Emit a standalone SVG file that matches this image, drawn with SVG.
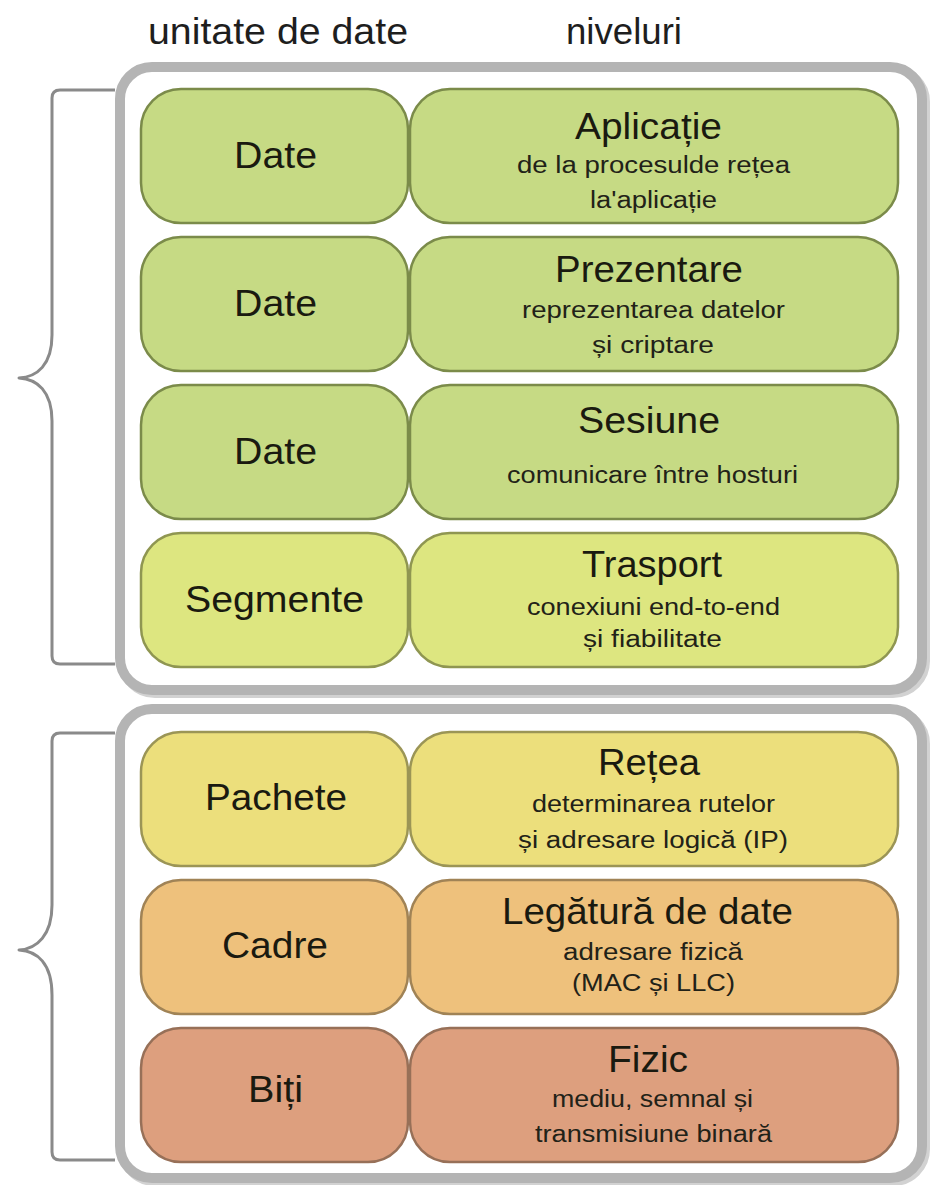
<svg xmlns="http://www.w3.org/2000/svg" width="930" height="1185" viewBox="0 0 930 1185">
<style>
.hdr{font-family:"Liberation Sans",Arial,sans-serif;font-size:36px;fill:#1e1e1e}
.lbl{font-family:"Liberation Sans",Arial,sans-serif;font-size:36px;fill:#1a1a10}
.ttl{font-family:"Liberation Sans",Arial,sans-serif;font-size:36px;fill:#1a1a10}
.sub{font-family:"Liberation Sans",Arial,sans-serif;font-size:23px;fill:#222218}
.cont{fill:#ffffff;stroke:#b4b4b4;stroke-width:10}
.shadow{fill:none;stroke:#d2d2d2;stroke-width:10}
.brace{fill:none;stroke:#8a8a8a;stroke-width:3;stroke-linejoin:round}
.g{fill:#c6da84;stroke:#7b8b4a;stroke-width:2.5}
.y1{fill:#dde680;stroke:#8f9651;stroke-width:2.5}
.y2{fill:#ecdf7c;stroke:#9b9556;stroke-width:2.5}
.o{fill:#eec17c;stroke:#a08356;stroke-width:2.5}
.r{fill:#dd9f7e;stroke:#977058;stroke-width:2.5}
</style>
<rect width="930" height="1185" fill="#ffffff"/>
<g id="headers">
<text class="hdr" x="148" y="44" textLength="260" lengthAdjust="spacingAndGlyphs">unitate de date</text>
<text class="hdr" x="566" y="44" textLength="116" lengthAdjust="spacingAndGlyphs">niveluri</text>
</g>
<g id="containers">
<rect class="shadow" x="123" y="70" width="802" height="623" rx="32"/>
<rect class="cont" x="120" y="67" width="802" height="623" rx="32"/>
<rect class="shadow" x="123" y="712" width="802" height="469" rx="32"/>
<rect class="cont" x="120" y="709" width="802" height="469" rx="32"/>
</g>
<g id="braces">
<path class="brace" d="M115 90 H60 Q52 90 52 98 V335 C52 365 37 377 19 378 C37 379 52 391 52 421 V656 Q52 664 60 664 H115"/>
<path class="brace" d="M115 733 H60 Q52 733 52 741 V905 C52 935 37 949 19 950 C37 951 52 963 52 995 V1152 Q52 1160 60 1160 H115"/>
</g>
<g id="row-aplicatie">
<rect class="g" x="141" y="89" width="267" height="134" rx="40"/>
<rect class="g" x="410" y="89" width="488" height="134" rx="40"/>
<text class="lbl" x="234" y="168" textLength="83" lengthAdjust="spacingAndGlyphs">Date</text>
<text class="ttl" x="575" y="139" textLength="147" lengthAdjust="spacingAndGlyphs">Aplicație</text>
<text class="sub" x="517" y="173" textLength="273" lengthAdjust="spacingAndGlyphs">de la procesulde rețea</text>
<text class="sub" x="590" y="208" textLength="127" lengthAdjust="spacingAndGlyphs">la'aplicație</text>
</g>
<g id="row-prezentare">
<rect class="g" x="141" y="237" width="267" height="134" rx="40"/>
<rect class="g" x="410" y="237" width="488" height="134" rx="40"/>
<text class="lbl" x="234" y="316" textLength="83" lengthAdjust="spacingAndGlyphs">Date</text>
<text class="ttl" x="555" y="282" textLength="188" lengthAdjust="spacingAndGlyphs">Prezentare</text>
<text class="sub" x="522" y="318" textLength="263" lengthAdjust="spacingAndGlyphs">reprezentarea datelor</text>
<text class="sub" x="592" y="353" textLength="122" lengthAdjust="spacingAndGlyphs">și criptare</text>
</g>
<g id="row-sesiune">
<rect class="g" x="141" y="385" width="267" height="134" rx="40"/>
<rect class="g" x="410" y="385" width="488" height="134" rx="40"/>
<text class="lbl" x="234" y="464" textLength="83" lengthAdjust="spacingAndGlyphs">Date</text>
<text class="ttl" x="578" y="433" textLength="142" lengthAdjust="spacingAndGlyphs">Sesiune</text>
<text class="sub" x="507" y="483" textLength="291" lengthAdjust="spacingAndGlyphs">comunicare între hosturi</text>
</g>
<g id="row-transport">
<rect class="y1" x="141" y="533" width="267" height="134" rx="40"/>
<rect class="y1" x="410" y="533" width="488" height="134" rx="40"/>
<text class="lbl" x="185" y="612" textLength="179" lengthAdjust="spacingAndGlyphs">Segmente</text>
<text class="ttl" x="582" y="577" textLength="140" lengthAdjust="spacingAndGlyphs">Trasport</text>
<text class="sub" x="527" y="615" textLength="253" lengthAdjust="spacingAndGlyphs">conexiuni end-to-end</text>
<text class="sub" x="583" y="647" textLength="139" lengthAdjust="spacingAndGlyphs">și fiabilitate</text>
</g>
<g id="row-retea">
<rect class="y2" x="141" y="732" width="267" height="134" rx="40"/>
<rect class="y2" x="410" y="732" width="488" height="134" rx="40"/>
<text class="lbl" x="205" y="810" textLength="142" lengthAdjust="spacingAndGlyphs">Pachete</text>
<text class="ttl" x="598" y="775" textLength="102" lengthAdjust="spacingAndGlyphs">Rețea</text>
<text class="sub" x="532" y="812" textLength="243" lengthAdjust="spacingAndGlyphs">determinarea rutelor</text>
<text class="sub" x="518" y="848" textLength="270" lengthAdjust="spacingAndGlyphs">și adresare logică (IP)</text>
</g>
<g id="row-legatura">
<rect class="o" x="141" y="880" width="267" height="134" rx="40"/>
<rect class="o" x="410" y="880" width="488" height="134" rx="40"/>
<text class="lbl" x="222" y="958" textLength="106" lengthAdjust="spacingAndGlyphs">Cadre</text>
<text class="ttl" x="502" y="924" textLength="291" lengthAdjust="spacingAndGlyphs">Legătură de date</text>
<text class="sub" x="563" y="960" textLength="180" lengthAdjust="spacingAndGlyphs">adresare fizică</text>
<text class="sub" x="572" y="991" textLength="163" lengthAdjust="spacingAndGlyphs">(MAC și LLC)</text>
</g>
<g id="row-fizic">
<rect class="r" x="141" y="1028" width="267" height="134" rx="40"/>
<rect class="r" x="410" y="1028" width="488" height="134" rx="40"/>
<text class="lbl" x="248" y="1102" textLength="55" lengthAdjust="spacingAndGlyphs">Biți</text>
<text class="ttl" x="608" y="1072" textLength="80" lengthAdjust="spacingAndGlyphs">Fizic</text>
<text class="sub" x="552" y="1107" textLength="201" lengthAdjust="spacingAndGlyphs">mediu, semnal și</text>
<text class="sub" x="535" y="1142" textLength="237" lengthAdjust="spacingAndGlyphs">transmisiune binară</text>
</g>
</svg>
